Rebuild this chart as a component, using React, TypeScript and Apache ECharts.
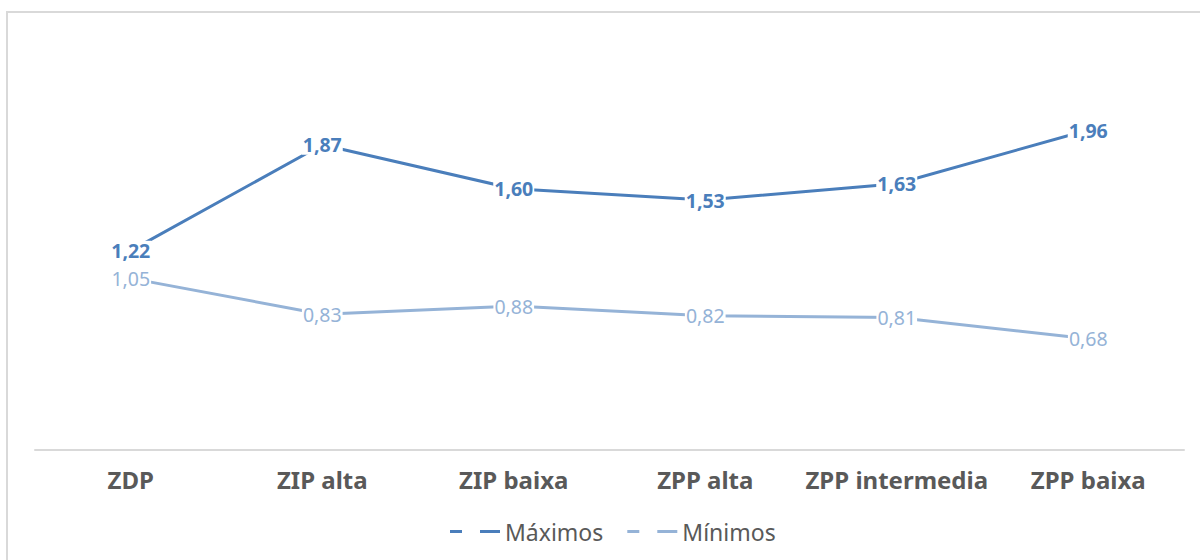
import React, { useEffect, useRef } from "react";
import * as echarts from "echarts";

const categories = ["ZDP", "ZIP alta", "ZIP baixa", "ZPP alta", "ZPP intermedia", "ZPP baixa"];
const maximos = [1.22, 1.87, 1.6, 1.53, 1.63, 1.96];
const minimos = [1.05, 0.83, 0.88, 0.82, 0.81, 0.68];
const seriesNames = ["Máximos", "Mínimos"];

const FONT = "'Noto Sans', 'Open Sans', sans-serif";
const C_MAX = "#4a7ebb";
const C_MIN = "#95b3d7";
const fmt = (v: number) => v.toFixed(2).replace(".", ",");
const legendIcon = "path://M0,0h12v3H0zM30,0h20v3H30z";

export default function App() {
  const ref = useRef<HTMLDivElement>(null);
  useEffect(() => {
    document.body.style.margin = "0";
    const chart = echarts.init(ref.current!, null, { renderer: "svg" });
    const mkLabel = (color: string, bold: boolean) => ({
      show: true,
      position: "inside",
      formatter: (p: any) => fmt(p.value),
      color,
      fontSize: 19.5,
      fontWeight: bold ? "bold" : "normal",
      fontFamily: FONT,
      backgroundColor: "#ffffff",
      padding: [0, 1],
    });
    chart.setOption({
      animation: false,
      backgroundColor: "#ffffff",
      graphic: [
        {
          type: "rect",
          shape: { x: 7, y: 12, width: 1220, height: 600 },
          style: { fill: "none", stroke: "#d9d9d9", lineWidth: 2 },
          silent: true,
        },
      ],
      grid: { left: 35, right: 16, top: 42, bottom: 110.5, containLabel: false },
      xAxis: {
        type: "category",
        data: categories,
        boundaryGap: true,
        axisLine: { show: true, lineStyle: { color: "#d9d9d9", width: 2 } },
        axisTick: { show: false },
        axisLabel: {
          interval: 0,
          color: "#595959",
          fontSize: 24,
          fontWeight: "bold",
          fontFamily: FONT,
          margin: 18,
        },
      },
      yAxis: {
        type: "value",
        min: 0,
        max: 2.5,
        interval: 0.5,
        show: false,
        splitLine: { show: false },
      },
      legend: {
        bottom: 12,
        left: 445,
        itemWidth: 50,
        itemHeight: 3,
        itemGap: 24,
        icon: legendIcon,
        textStyle: { color: "#595959", fontSize: 23, fontFamily: FONT },
        data: seriesNames,
      },
      series: [
        {
          name: seriesNames[0],
          type: "line",
          data: maximos,
          color: C_MAX,
          symbol: "circle",
          symbolSize: 2,
          showSymbol: true,
          itemStyle: { color: C_MAX },
          lineStyle: { color: C_MAX, width: 3 },
          label: mkLabel(C_MAX, true),
          z: 3,
        },
        {
          name: seriesNames[1],
          type: "line",
          data: minimos,
          color: C_MIN,
          symbol: "circle",
          symbolSize: 2,
          showSymbol: true,
          itemStyle: { color: C_MIN },
          lineStyle: { color: C_MIN, width: 3 },
          label: mkLabel(C_MIN, false),
          z: 2,
        },
      ],
    });
    return () => chart.dispose();
  }, []);
  return <div ref={ref} style={{ width: 1200, height: 560 }} />;
}
